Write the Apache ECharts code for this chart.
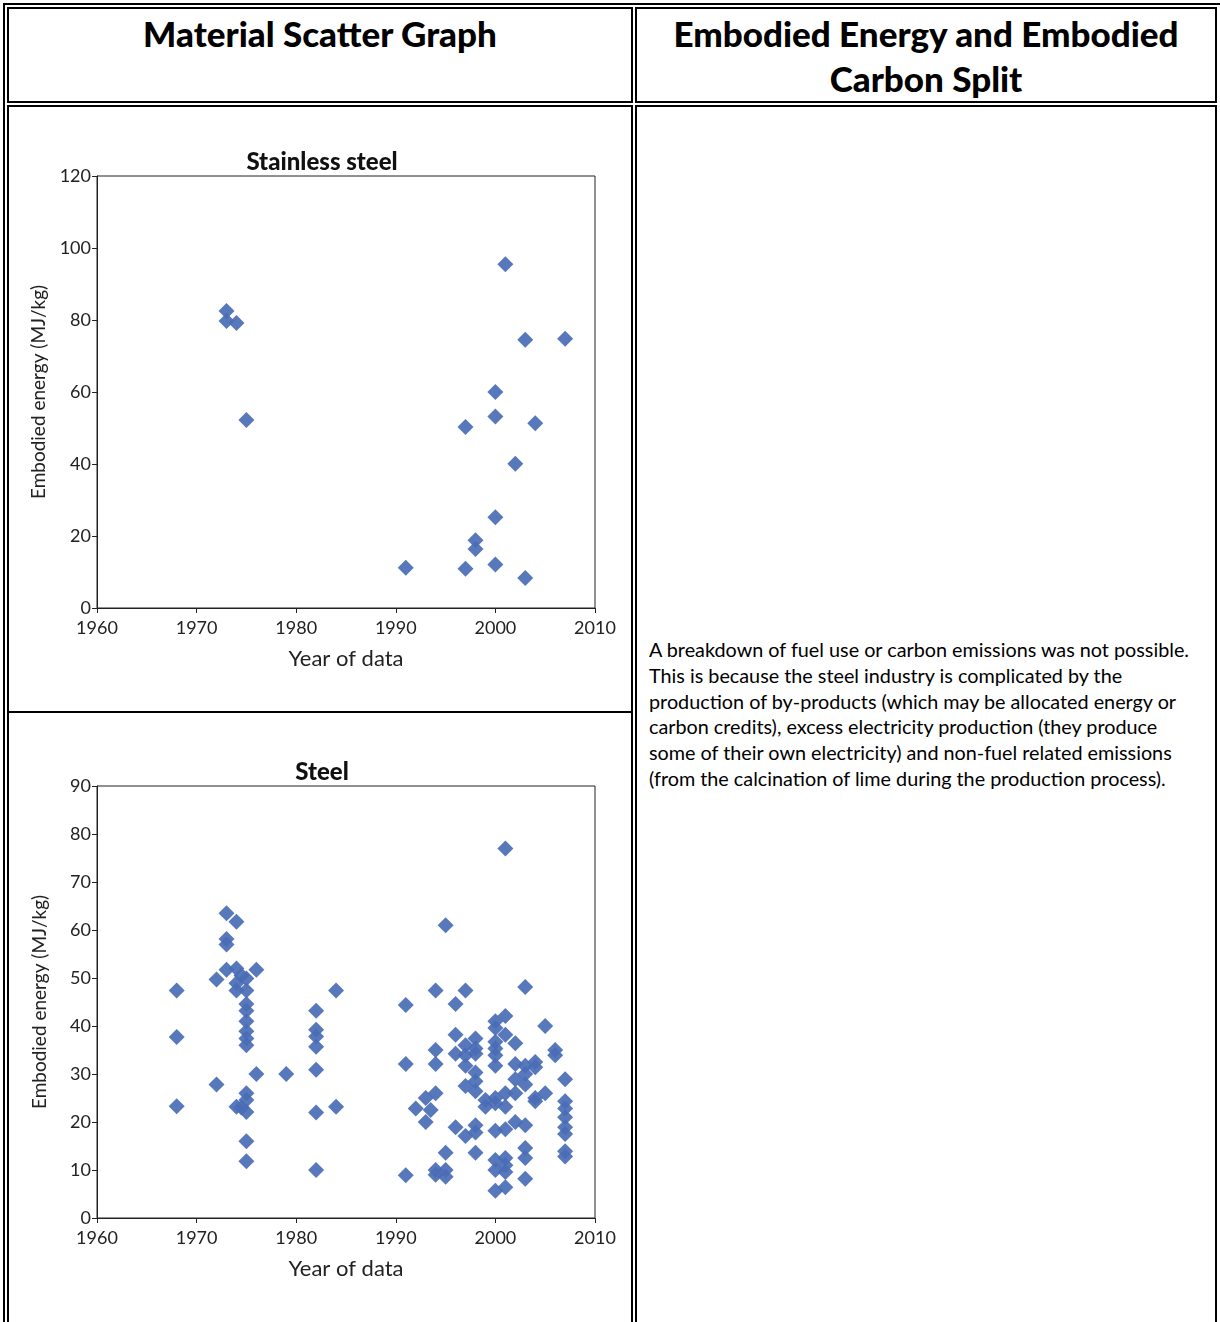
<!DOCTYPE html>
<html>
<head>
<meta charset="utf-8">
<script src="https://cdn.jsdelivr.net/npm/echarts@6/dist/echarts.min.js"></script>
<style>
  html, body { margin: 0; padding: 0; background: #fff; }
  body { width: 1220px; height: 1322px; position: relative; overflow: hidden; font-family: Lato, "Open Sans", sans-serif; }
  .box { position: absolute; border: 2px solid #000; box-sizing: border-box; }
  .head { position: absolute; font-weight: 900; font-size: 35px; text-align: center; color: #000; line-height: 45px; }
  .note { position: absolute; left: 649px; top: 637px; font-size: 19.8px; line-height: 25.8px; color: #000; white-space: nowrap; }
  .chart { position: absolute; left: 20px; width: 600px; height: 540px; }
  .rule { position: absolute; left: 9px; top: 711px; width: 622px; height: 2px; background: #000; }
</style>
</head>
<body>
  <!-- outer table border, open at the bottom -->
  <div class="box" style="left:3px; top:3px; width:1220px; height:1400px;"></div>
  <div class="box" style="left:7px; top:7px; width:626px; height:96px;"></div>
  <div class="box" style="left:635px; top:7px; width:582px; height:96px;"></div>
  <div class="box" style="left:7px; top:105px; width:626px; height:1300px;"></div>
  <div class="box" style="left:635px; top:105px; width:582px; height:1300px;"></div>
  <div class="rule"></div>

  <div class="head" style="left:9px; top:11px; width:622px;">Material Scatter Graph</div>
  <div class="head" style="left:637px; top:11px; width:578px;">Embodied Energy and Embodied<br>Carbon Split</div>

  <div class="note">A breakdown of fuel use or carbon emissions was not possible.<br>This is because the steel industry is complicated by the<br>production of by-products (which may be allocated energy or<br>carbon credits), excess electricity production (they produce<br>some of their own electricity) and non-fuel related emissions<br>(from the calcination of lime during the production process).</div>

  <div class="chart" id="chart-stainless" style="top:140px;"></div>
  <div class="chart" id="chart-steel" style="top:750px;"></div>

<script>
// [year, embodied energy MJ/kg]
const stainlessPoints = [
  [1973, 82.5], [1973, 79.7], [1974, 79.2], [1975, 52.2],
  [1991, 11.2], [1997, 50.3], [1997, 10.9], [1998, 18.8], [1998, 16.4],
  [2000, 60], [2000, 53.2], [2000, 25.2], [2000, 12.1],
  [2001, 95.5], [2002, 40.1], [2003, 74.5], [2003, 8.3],
  [2004, 51.3], [2007, 74.8]
]

const steelPoints = [
  [1968, 47.4], [1968, 37.7], [1968, 23.3],
  [1972, 49.7], [1972, 27.8],
  [1973, 63.5], [1973, 58.1], [1973, 57], [1973, 51.7],
  [1974, 61.7], [1974, 52], [1974, 48.9], [1974, 47.4], [1974, 23.2],
  [1974.5, 50.5], [1974.5, 23],
  [1975, 49.9], [1975, 47.4], [1975, 44.6], [1975, 43.2], [1975, 41], [1975, 38.9],
  [1975, 37.4], [1975, 36], [1975, 26], [1975, 24.6], [1975, 22.1], [1975, 16], [1975, 11.8],
  [1976, 51.7], [1976, 30],
  [1979, 30],
  [1982, 43.2], [1982, 39.2], [1982, 37.8], [1982, 35.7], [1982, 30.9], [1982, 22], [1982, 10],
  [1984, 47.4], [1984, 23.2],
  [1991, 44.4], [1991, 32.1], [1991, 8.9],
  [1992, 22.8],
  [1993, 25], [1993, 20], [1993.5, 22.5],
  [1994, 47.4], [1994, 35], [1994, 32.1], [1994, 26], [1994, 10], [1994, 9],
  [1995, 61], [1995, 13.6], [1995, 10], [1995, 8.6],
  [1996, 44.6], [1996, 38.2], [1996, 34.2], [1996, 18.9],
  [1997, 47.4], [1997, 36], [1997, 33.9], [1997, 31.7], [1997, 27.5], [1997, 17.1],
  [1998, 37.4], [1998, 35.3], [1998, 34.2], [1998, 30.3], [1998, 28.5], [1998, 26.4],
  [1998, 19.3], [1998, 17.8], [1998, 13.6],
  [1999, 24.6], [1999, 23.2],
  [2000, 41], [2000, 39.6], [2000, 36.7], [2000, 35.3], [2000, 33.9], [2000, 31.7],
  [2000, 25], [2000, 23.9], [2000, 18.2], [2000, 12.1], [2000, 10], [2000, 5.7],
  [2001, 77], [2001, 42.1], [2001, 38.2], [2001, 26], [2001, 23.2], [2001, 18.5],
  [2001, 12.5], [2001, 11], [2001, 9.6], [2001, 6.4],
  [2002, 36.4], [2002, 32.1], [2002, 28.9], [2002, 26], [2002, 20],
  [2003, 48.1], [2003, 31.7], [2003, 30], [2003, 27.8], [2003, 19.3], [2003, 14.6], [2003, 12.5], [2003, 8.2],
  [2004, 32.5], [2004, 31.4], [2004, 25], [2004, 24.3],
  [2005, 40], [2005, 26],
  [2006, 35], [2006, 33.9],
  [2007, 28.9], [2007, 24.3], [2007, 22.8], [2007, 21], [2007, 18.9], [2007, 17.5], [2007, 13.9], [2007, 12.8]
]

const FONT = 'Lato, "Open Sans", sans-serif'

const getScatterOption = (title, points, yMax, yStep) => {
  return {
    animation: false,
    title: {
      text: title,
      left: 297,
      top: 5,
      textAlign: 'center',
      textStyle: { fontFamily: FONT, fontSize: 24, fontWeight: 900, color: '#111' },
    },
    grid: {
      left: 77,
      top: 36,
      width: 498,
      height: 432,
      show: true,
      borderColor: '#222',
      borderWidth: 1,
    },
    xAxis: {
      type: 'value',
      min: 1960,
      max: 2010,
      interval: 10,
      name: 'Year of data',
      nameLocation: 'middle',
      nameGap: 40,
      nameTextStyle: { fontFamily: FONT, fontSize: 22, color: '#222' },
      axisLine: { show: true, lineStyle: { color: '#222' } },
      axisTick: { show: true, length: 5, lineStyle: { color: '#222' } },
      axisLabel: { fontFamily: FONT, fontSize: 18, color: '#222', margin: 11, formatter: v => String(v) },
      splitLine: { show: false },
    },
    yAxis: {
      type: 'value',
      min: 0,
      max: yMax,
      interval: yStep,
      name: 'Embodied energy (MJ/kg)',
      nameLocation: 'middle',
      nameRotate: 90,
      nameGap: 48,
      nameTextStyle: { fontFamily: FONT, fontSize: 19, color: '#222' },
      axisLine: { show: true, lineStyle: { color: '#222' } },
      axisTick: { show: true, length: 5, lineStyle: { color: '#222' } },
      axisLabel: { fontFamily: FONT, fontSize: 18, color: '#222', margin: 6 },
      splitLine: { show: false },
    },
    series: [
      {
        type: 'scatter',
        symbol: 'diamond',
        symbolSize: 16,
        data: points,
        itemStyle: { color: '#4a6cb6', opacity: 0.92 },
      },
    ],
  }
}

const chartStainless = echarts.init(document.getElementById('chart-stainless'))
chartStainless.setOption(getScatterOption('Stainless steel', stainlessPoints, 120, 20))

const chartSteel = echarts.init(document.getElementById('chart-steel'))
chartSteel.setOption(getScatterOption('Steel', steelPoints, 90, 10))
</script>
</body>
</html>
